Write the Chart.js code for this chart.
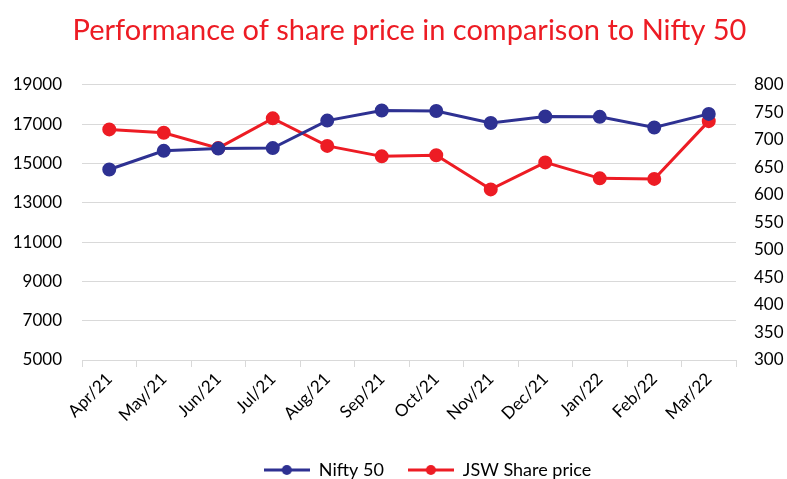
<!DOCTYPE html>
<html>
<head>
<meta charset="utf-8">
<script src="https://cdn.jsdelivr.net/npm/chart.js@4"></script>
<style>
  html, body { margin:0; padding:0; background:#fff; }
  #wrap { width:787px; height:479px; }
</style>
</head>
<body>
<div id="wrap"><canvas id="grafico"></canvas></div>
<script>
// ── datos ──
const meses  = ["Apr/21","May/21","Jun/21","Jul/21","Aug/21","Sep/21","Oct/21","Nov/21","Dec/21","Jan/22","Feb/22","Mar/22"];
const nifty  = [14690, 15640, 15760, 15780, 17180, 17690, 17670, 17060, 17390, 17370, 16830, 17520];
const jsw    = [719, 713, 685, 739, 689, 670, 672, 610, 659, 630, 629, 734];
const ticksNifty = [5000, 7000, 9000, 11000, 13000, 15000, 17000, 19000];
const ticksJsw   = [300, 350, 400, 450, 500, 550, 600, 650, 700, 750, 800];

const C = { blue:'#2e3192', red:'#ed1c24', grid:'#d9d9d9', text:'#000' };
const FONT = 'Lato, "Open Sans", sans-serif';

// marcador de leyenda estilo Excel: línea + círculo
function marcador(color) {
  const c = document.createElement('canvas');
  c.width = 46; c.height = 12;
  const g = c.getContext('2d');
  g.strokeStyle = color; g.lineWidth = 3;
  g.beginPath(); g.moveTo(0, 6); g.lineTo(46, 6); g.stroke();
  g.fillStyle = color;
  g.beginPath(); g.arc(23, 6, 5, 0, Math.PI*2); g.fill();
  return c;
}

// desplaza título y leyenda como en el original (no están centrados en el lienzo)
const desplazar = {
  id:'desplazar',
  afterLayout(ch) {
    ch.titleBlock.left += 16; ch.titleBlock.right += 16;
    ch.legend.left += 34; ch.legend.right += 34;
  }
};

new Chart(document.getElementById('grafico'), {
  type: 'line',
  data: {
    labels: meses,
    datasets: [
      { label:'Nifty 50', data:nifty, yAxisID:'y', borderColor:C.blue, backgroundColor:C.blue,
        borderWidth:3, pointRadius:5.5, pointHoverRadius:5.5, tension:0 },
      { label:'JSW Share price', data:jsw, yAxisID:'y1', borderColor:C.red, backgroundColor:C.red,
        borderWidth:3, pointRadius:5.5, pointHoverRadius:5.5, tension:0 }
    ]
  },
  plugins:[desplazar],
  options: {
    responsive:true, maintainAspectRatio:false, animation:false,
    layout:{ padding:{ top:0, bottom:-10, left:0, right:0 } },
    plugins: {
      title: { display:true, text:'Performance of share price in comparison to Nifty 50',
        color:C.red, font:{ size:29, family:FONT, weight:'normal' }, padding:{ top:13, bottom:37 } },
      legend: { position:'bottom',
        labels: { color:C.text, font:{ size:18, family:FONT }, boxHeight:12, pointStyleWidth:46, padding:24,
          usePointStyle:true,
          generateLabels: ch => ch.data.datasets.map((d,i) => ({
            text:d.label, pointStyle:marcador(d.borderColor), fillStyle:d.borderColor,
            strokeStyle:d.borderColor, lineWidth:0, hidden:false, datasetIndex:i, fontColor:C.text
          })) } },
      tooltip: { enabled:false }
    },
    scales: {
      x: {
        offset:true,
        afterFit: ax => { ax.height = 77; },
        grid:{ drawOnChartArea:false, drawTicks:true, tickLength:7, color:C.grid, offset:true },
        border:{ display:true, color:C.grid, width:1 },
        ticks:{ color:C.text, font:{ size:17, family:FONT }, minRotation:45, maxRotation:45, padding:2 }
      },
      y: {
        position:'left', min:5000, max:19000,
        afterBuildTicks: ax => { ax.ticks = ticksNifty.map(v => ({ value:v })); },
        afterFit: ax => { ax.width = 82; },
        grid:{ color:C.grid, lineWidth:1, drawTicks:false },
        border:{ display:false },
        ticks:{ color:C.text, font:{ size:17, family:FONT }, padding:20, callback: v => String(v) }
      },
      y1: {
        position:'right', min:300, max:800,
        afterBuildTicks: ax => { ax.ticks = ticksJsw.map(v => ({ value:v })); },
        afterFit: ax => { ax.width = 51; },
        grid:{ drawOnChartArea:false, drawTicks:false },
        border:{ display:false },
        ticks:{ color:C.text, font:{ size:17, family:FONT }, padding:18, callback: v => String(v) }
      }
    }
  }
});
</script>
</body>
</html>
